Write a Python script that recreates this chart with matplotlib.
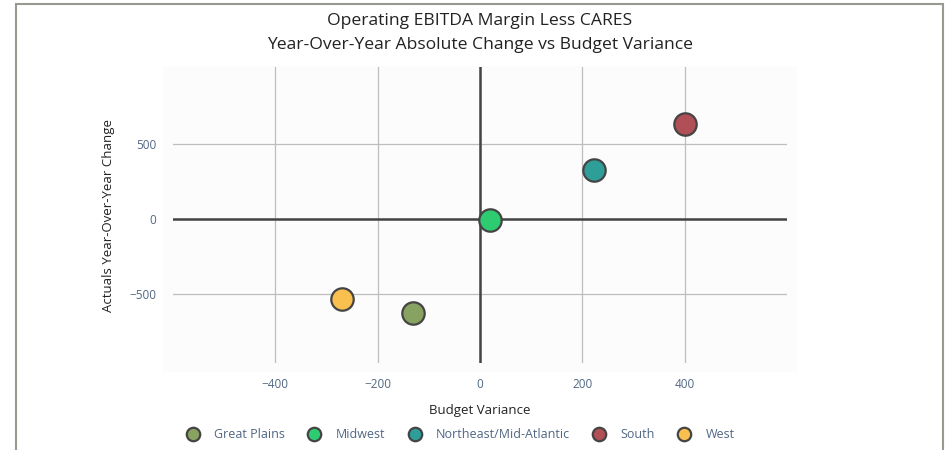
import matplotlib
matplotlib.use("Agg")
import matplotlib.pyplot as plt
from matplotlib.patches import Rectangle

regions = ["Great Plains", "Midwest", "Northeast/Mid-Atlantic", "South", "West"]
budget_variance = [-131, 20, 222, 400, -269]
yoy_change = [-627, -5, 327, 633, -533]
colors = ["#87a261", "#2ecc71", "#2e9e98", "#b04f55", "#f9c04f"]
x_ticks = [-400, -200, 0, 200, 400]
y_ticks = [-500, 0, 500]

plt.rcParams['font.family'] = ['Open Sans', 'DejaVu Sans']
W, H = 949, 450
fig = plt.figure(figsize=(W / 100, H / 100), dpi=100)
fig.patch.set_facecolor("white")

# outer frame
fig.add_artist(Rectangle((16 / W, -0.1), (943 - 16) / W, (H - 4) / H + 0.1,
                         transform=fig.transFigure, fill=False,
                         edgecolor="#999990", linewidth=1.5))
# plot background
fig.add_artist(Rectangle((163 / W, (H - 372) / H), (797 - 163) / W, (372 - 66) / H,
                         transform=fig.transFigure, facecolor="#fcfcfc",
                         edgecolor="none", zorder=0))

ax = fig.add_axes([173 / W, (H - 363) / H, (787 - 173) / W, (363 - 67) / H])
ax.set_facecolor("none")
ax.set_xlim(-600, 600)
ax.set_ylim(-960, 1013)
for s in ax.spines.values():
    s.set_visible(False)

ax.set_xticks(x_ticks)
ax.set_yticks(y_ticks)
ax.set_xticklabels([f"{v}".replace("-", "\u2212") for v in x_ticks])
ax.set_yticklabels([f"{v}".replace("-", "\u2212") for v in y_ticks])
ax.tick_params(length=0, labelsize=8.5, labelcolor="#506784")
ax.tick_params(axis="x", pad=11)
ax.tick_params(axis="y", pad=12)
ax.grid(True, color="#bdbdbd", linewidth=0.9)
ax.set_axisbelow(True)
ax.axhline(0, color="#444444", linewidth=1.8, zorder=1)
ax.axvline(0, color="#444444", linewidth=1.8, zorder=1)

for r, xv, yv, c in zip(regions, budget_variance, yoy_change, colors):
    ax.scatter([xv], [yv], s=260, color=c, edgecolor="#444444", linewidth=1.6,
               zorder=3, label=r)

ax.set_xlabel("Budget Variance", fontsize=9.5, color="#222222", labelpad=9)
ax.set_ylabel("Actuals Year-Over-Year Change", fontsize=9.5, color="#222222", labelpad=10)

fig.text(480 / W, 1 - 21 / H, "Operating EBITDA Margin Less CARES", ha="center",
         va="center", fontsize=12.6, color="#222222")
fig.text(480 / W, 1 - 45 / H, "Year-Over-Year Absolute Change vs Budget Variance",
         ha="center", va="center", fontsize=12.6, color="#222222")

leg = ax.legend(loc="center", bbox_to_anchor=(460 / W, 1 - 434 / H),
                bbox_transform=fig.transFigure, ncol=5, frameon=False,
                fontsize=9, markerscale=0.6, handletextpad=1.1,
                columnspacing=1.75, handlelength=1.2)
for t in leg.get_texts():
    t.set_color("#506784")

fig.savefig("out.png", dpi=100)
